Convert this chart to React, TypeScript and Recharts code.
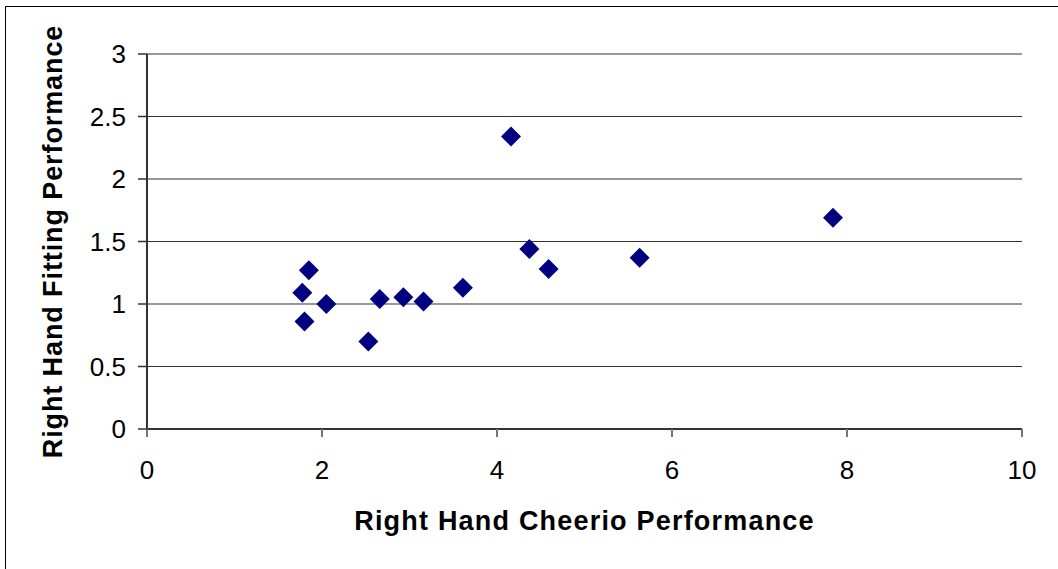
import React from "react";
import {
  ScatterChart,
  Scatter,
  XAxis,
  YAxis,
  CartesianGrid,
} from "recharts";

// values
const cheerio = [1.85, 1.775, 1.8, 2.05, 2.53, 2.66, 2.93, 3.16, 3.61, 4.16, 4.37, 4.59, 5.63, 7.84];
const fitting = [1.27, 1.09, 0.86, 1.0, 0.7, 1.04, 1.055, 1.02, 1.13, 2.34, 1.44, 1.28, 1.37, 1.69];
const xTicks = [0, 2, 4, 6, 8, 10];
const yTicks = [0, 0.5, 1, 1.5, 2, 2.5, 3];

const points = cheerio.map((x, i) => ({ x, y: fitting[i] }));

const FONT = "'Liberation Sans', Arial, sans-serif";

// rotated square marker like Excel's diamond
const Diamond = (props: any) => {
  const { cx, cy } = props;
  const r = 10;
  return (
    <path
      d={`M${cx},${cy - r}L${cx + r},${cy}L${cx},${cy + r}L${cx - r},${cy}Z`}
      fill="#000080"
    />
  );
};

const App: React.FC = () => {
  return (
    <div style={{ position: "absolute", left: 0, top: 0, width: 1058, height: 569, overflow: "hidden", background: "#fff" }}>
      {/* outer frame, right/bottom edge runs off the picture */}
      <div
        style={{
          position: "absolute",
          left: 5,
          top: 6,
          width: 1070,
          height: 580,
          border: "1.5px solid #000",
        }}
      />
      <div style={{ position: "absolute", left: 0, top: 0 }}>
        <ScatterChart
          width={1058}
          height={569}
          margin={{ top: 54, right: 36, left: 0, bottom: 0 }}
        >
          <CartesianGrid horizontal vertical={false} stroke="#333" strokeWidth={1.2} />
          <XAxis
            type="number"
            dataKey="x"
            domain={[0, 10]}
            ticks={xTicks}
            interval={0}
            height={140}
            axisLine={{ stroke: "#333", strokeWidth: 2 }}
            tickLine={{ stroke: "#777", strokeWidth: 2 }}
            tickSize={8}
            tickMargin={24}
            tick={{ fill: "#000", fontSize: 26, fontFamily: FONT }}
            label={{
              value: "Right Hand Cheerio Performance",
              position: "insideTop",
              offset: 82,
              fill: "#000",
              fontSize: 27,
              fontWeight: "bold",
              fontFamily: FONT,
              style: { letterSpacing: 1.2 },
            }}
          />
          <YAxis
            type="number"
            dataKey="y"
            domain={[0, 3]}
            ticks={yTicks}
            interval={0}
            width={147}
            axisLine={{ stroke: "#333", strokeWidth: 2 }}
            tickLine={{ stroke: "#333", strokeWidth: 1.5 }}
            tickSize={9}
            tickMargin={12}
            tick={{ fill: "#000", fontSize: 26, fontFamily: FONT }}
            label={{
              value: "Right Hand Fitting Performance",
              angle: -90,
              position: "insideLeft",
              offset: 52,
              fill: "#000",
              fontSize: 27,
              fontWeight: "bold",
              fontFamily: FONT,
              style: { textAnchor: "middle", letterSpacing: 0.9 },
            }}
          />
          <Scatter data={points} shape={<Diamond />} isAnimationActive={false} />
        </ScatterChart>
      </div>
    </div>
  );
};

export default App;
